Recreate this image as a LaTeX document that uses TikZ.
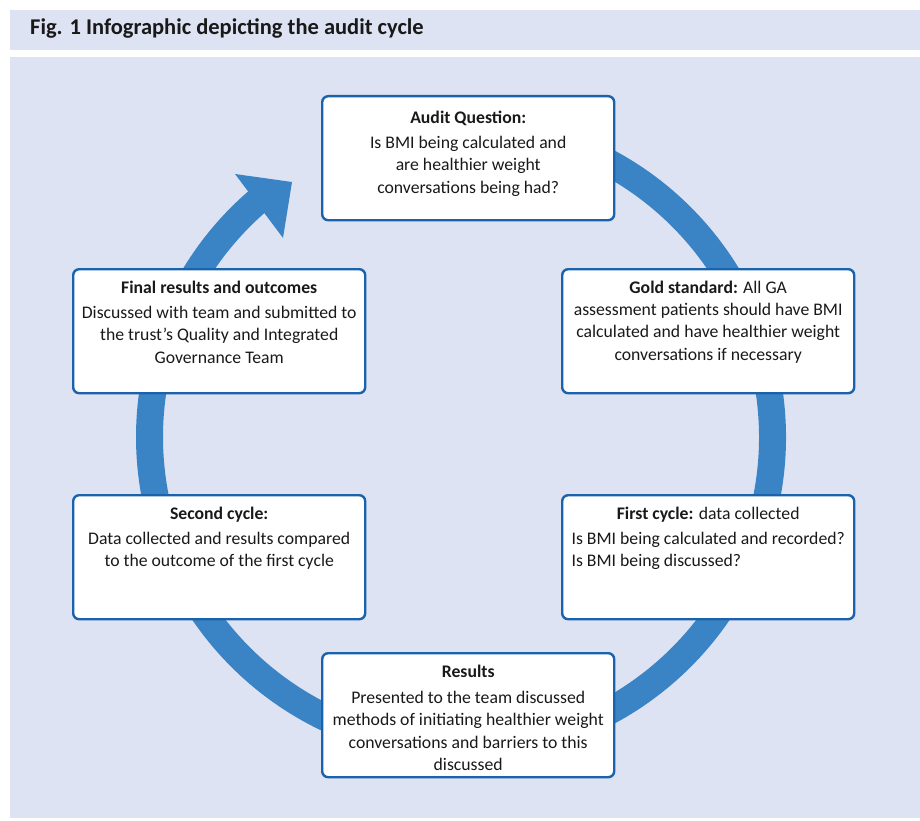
\documentclass[tikz,border=0pt]{standalone}
\usepackage{fontspec}
\setmainfont{Carlito}
\definecolor{panelbg}{HTML}{DEE3F3}
\definecolor{ringblue}{HTML}{3A84C6}
\definecolor{boxblue}{HTML}{1A62AB}
\tikzset{
  stagebox/.style={draw=boxblue, line width=2.4pt, rounded corners=6pt, fill=white,
    minimum width=292pt, minimum height=124pt, inner sep=0pt, anchor=north west},
  stagetext/.style={anchor=north, inner sep=0pt, align=center, text=black!90,
    font=\fontsize{17.7}{22.3}\selectfont},
  ring/.style={draw=ringblue, line width=27pt}
}
\begin{document}
\begin{tikzpicture}[x=1pt,y=1pt]
\useasboundingbox (0,0) rectangle (920,-821);
\fill[white] (0,0) rectangle (920,-821);
\fill[panelbg] (10,-10) rectangle (920,-50);
\fill[panelbg] (10,-57) rectangle (920,-818);
\node[anchor=base west, inner sep=0pt, font=\bfseries\fontsize{22.5}{26}\selectfont, text=black!90] (title) at (30,-35) {Fig. 1 Infographic depicting the audit cycle};

% cycle ring
\coordinate (c) at (461,-437);
\draw[ring] ([shift={(95:311.5)}]c) arc[start angle=95, end angle=-230, radius=311.5];
\coordinate (tip) at (292,-182);
\coordinate (barbA) at (235,-174);
\coordinate (barbB) at (283,-238);
\fill[ringblue] (tip) -- (barbA) -- (barbB) -- cycle;

% boxes
\node[stagebox] (audit) at (321,-95) {};
\node[stagebox] (gold) at (561,-268) {};
\node[stagebox] (final) at (72,-268) {};
\node[stagebox] (second) at (72,-494) {};
\node[stagebox] (first) at (561,-494) {};
\node[stagebox] (results) at (321,-652) {};

% texts
\node[stagetext] (auditT) at ([yshift=-12.4pt]audit.north)
  {\strut\textbf{Audit Question:}\\[3pt] Is BMI being calculated and\\ are healthier weight\\ conversations being had?};
\node[stagetext] (goldT) at ([yshift=-9.4pt]gold.north)
  {\strut\textbf{Gold standard:} All GA\\ assessment patients should have BMI\\ calculated and have healthier weight\\ conversations if necessary};
\node[stagetext] (finalT) at ([yshift=-9.4pt]final.north)
  {\strut\textbf{Final results and outcomes}\\[3pt] Discussed with team and submitted to\\ the trust’s Quality and Integrated\\ Governance Team};
\node[stagetext] (secondT) at ([yshift=-9.4pt]second.north)
  {\strut\textbf{Second cycle:}\\[3pt] Data collected and results compared\\ to the outcome of the first cycle};
\node[stagetext] (firstT) at ([yshift=-9.4pt]first.north)
  {\strut\textbf{First cycle:} data collected\\[2pt] \begin{tabular}{@{}l@{}}Is BMI being calculated and recorded?\\ Is BMI being discussed?\end{tabular}};
\node[stagetext] (resultsT) at ([yshift=-9.4pt]results.north)
  {\strut\textbf{Results}\\[4pt] Presented to the team discussed\\ methods of initiating healthier weight\\ conversations and barriers to this\\ discussed};
\end{tikzpicture}
\end{document}
